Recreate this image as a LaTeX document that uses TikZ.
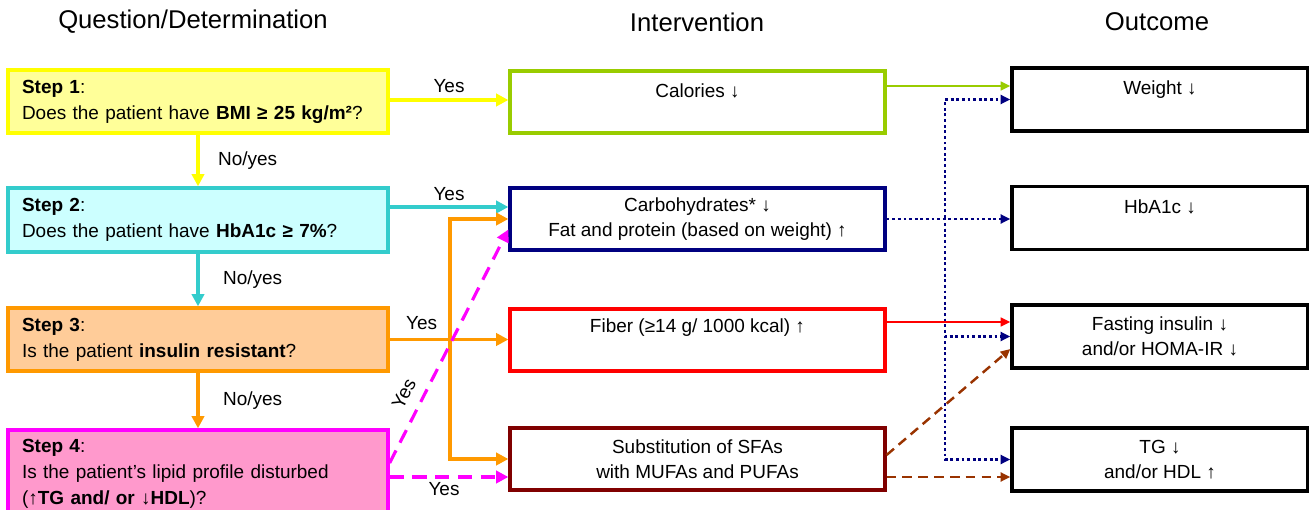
\documentclass[tikz,border=0pt]{standalone}
\usepackage{fontspec}
\setmainfont{Liberation Sans}
\usetikzlibrary{positioning, arrows.meta}
\definecolor{yelline}{HTML}{FFFF00}
\definecolor{yelfill}{HTML}{FFFF99}
\definecolor{tealline}{HTML}{33CCCC}
\definecolor{tealfill}{HTML}{CCFFFF}
\definecolor{orline}{HTML}{FF9900}
\definecolor{orfill}{HTML}{FFCC99}
\definecolor{pkline}{HTML}{FF00FF}
\definecolor{pkfill}{HTML}{FF99CC}
\definecolor{lime}{HTML}{99CC00}
\definecolor{navyblue}{HTML}{000080}
\definecolor{maroon}{HTML}{800000}
\definecolor{rust}{HTML}{993300}

\begin{document}
\begin{tikzpicture}[x=0.02cm,y=-0.02cm]
    \tikzstyle{question}=[draw,line width=1.9pt,minimum width=7.6cm,text width=7.04cm,align=left,inner xsep=0.28cm,font=\fontsize{10.8}{14.7}\selectfont]
    \tikzstyle{action}=[draw,fill=white,line width=1.9pt,minimum width=7.5cm,minimum height=1.24cm,align=center,font=\fontsize{10.8}{14}\selectfont]
    \tikzstyle{result}=[action,draw=black,minimum width=5.92cm,minimum height=1.26cm]
    \tikzstyle{head}=[font=\fontsize{14.6}{16}\selectfont]
    \tikzstyle{tag}=[text=black,font=\fontsize{10.8}{12}\selectfont,inner sep=2pt]
    \tikzstyle{link}=[line width=1.8pt,-{Triangle[length=7pt,width=7pt]}]
    \tikzstyle{fine}=[line width=1.2pt,-{Triangle[length=5.5pt,width=5pt]}]
    \tikzstyle{dots}=[fine,navyblue,line width=1.6pt,dash pattern=on 1.6pt off 1.6pt]
    \tikzstyle{brown dashes}=[fine,rust,line width=1.4pt,dash pattern=on 5.5pt off 3.5pt]

    \clip (0,0) rectangle (1309,510);

    \node (h1)[head] at (193,22) {Question/Determination};
    \node (h2)[head] at (697,22) {Intervention};
    \node (h3)[head] at (1157,22) {Outcome};

    \node (q1)[question,draw=yelline,fill=yelfill,minimum height=1.26cm] at (198,101.5)
        {\textbf{Step 1}:\\Does the patient have \textbf{BMI ≥ 25 kg/m²}?};
    \node (q2)[question,draw=tealline,fill=tealfill,minimum height=1.28cm] at (198,220)
        {\textbf{Step 2}:\\Does the patient have \textbf{HbA1c ≥ 7\%}?};
    \node (q3)[question,draw=orline,fill=orfill,minimum height=1.26cm] at (198,339.5)
        {\textbf{Step 3}:\\Is the patient \textbf{insulin resistant}?};
    \node (q4)[question,draw=pkline,fill=pkfill,minimum height=1.76cm] at (198,474)
        {\textbf{Step 4}:\\Is the patient’s lipid profile disturbed\\(\textbf{↑TG and/ or ↓HDL})?};

    \node (cal)[action,draw=lime] at (697.5,102) {Calories ↓\\[-5pt]\strut};
    \node (carb)[action,draw=navyblue] at (697.5,219) {Carbohydrates* ↓\\Fat and protein (based on weight) ↑};
    \node (fib)[action,draw=red] at (697.5,340) {Fiber (≥14 g/ 1000 kcal) ↑\\[-2pt]\strut};
    \node (sub)[action,draw=maroon] at (697.5,459) {Substitution of SFAs\\with MUFAs and PUFAs};

    \node (w)[result] at (1160,99.5) {Weight ↓\\[-5pt]\strut};
    \node (hb)[result] at (1160,218) {HbA1c ↓\\[-5pt]\strut};
    \node (fi)[result] at (1160,336.5) {Fasting insulin ↓\\and/or HOMA-IR ↓};
    \node (tg)[result] at (1160,459.5) {TG ↓\\and/or HDL ↑};

    \coordinate (fork) at (450,340);
    \coordinate (hub) at (945,217.5);

    \draw[link,yelline] (q1.south) -- node[tag,right,xshift=0.3cm] (n1) {No/yes} (q2.north);
    \draw[link,tealline] (q2.south) -- node[tag,right,xshift=0.4cm] (n2) {No/yes} (q3.north);
    \draw[link,orline] (q3.south) -- node[tag,right,xshift=0.4cm] (n3) {No/yes} (q4.north);

    \draw[link,yelline] ([yshift=0.03cm]q1.east) -- node[tag,above,yshift=0.05cm] (y1) {Yes} ([yshift=0.03cm]q1.east -| cal.west);
    \draw[link,tealline] ([yshift=0.26cm]q2.east) -- node[tag,above,yshift=0.03cm] (y2) {Yes} ([yshift=0.26cm]q2.east -| carb.west);
    \draw[link,orline] (q3.east) -- node[tag,pos=0.27,above,yshift=0.1cm] (y3) {Yes} (q3.east -| fib.west);
    \draw[link,orline] (fork) |- (carb.west);
    \draw[link,orline] (fork) |- (sub.west);
    \draw[link,pkline,dash pattern=on 8pt off 5pt] ([yshift=0.22cm]q4.east) -- node[tag,pos=0.26,above=4pt,sloped] (y4) {Yes} ([yshift=-0.21cm]carb.west);
    \draw[link,pkline,dash pattern=on 8pt off 5pt] ([yshift=-0.06cm]q4.east) -- node[tag,below,xshift=-0.1cm] (y5) {Yes} ([yshift=-0.06cm]q4.east -| sub.west);

    \draw[fine,lime] ([yshift=0.32cm]cal.east) -- ([yshift=0.32cm]cal.east -| w.west);
    \draw[dots] (carb.east) -- (carb.east -| hb.west);
    \draw[dots] (hub) |- (w.west);
    \draw[dots] (hub) |- (fi.west);
    \draw[dots] (hub) |- (tg.west);
    \draw[fine,red] ([yshift=0.36cm]fib.east) -- ([yshift=0.36cm]fib.east -| fi.west);
    \draw[brown dashes] ([yshift=0.08cm]sub.east) -- ([yshift=-0.25cm]fi.west);
    \draw[brown dashes] ([yshift=-0.36cm]sub.east) -- ([yshift=-0.36cm]sub.east -| tg.west);
\end{tikzpicture}
\end{document}
